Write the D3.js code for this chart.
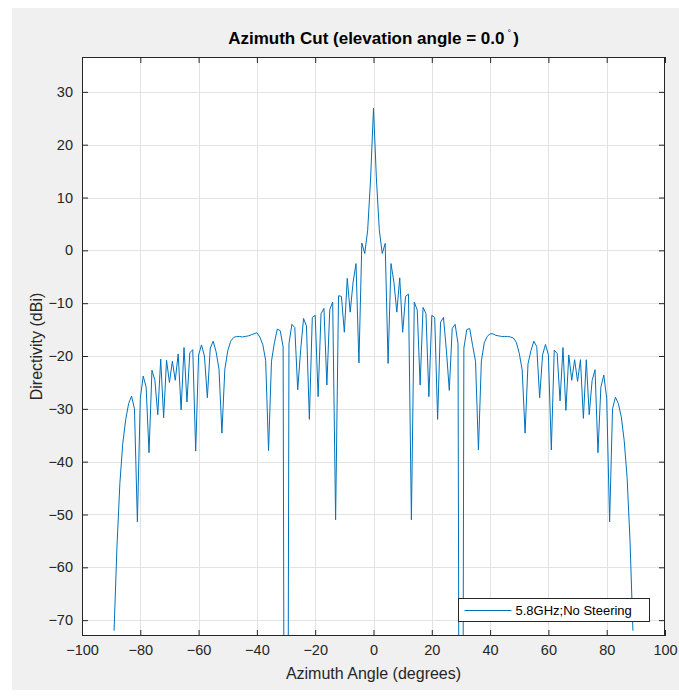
<!DOCTYPE html>
<html>
<head>
<meta charset="utf-8">
<script src="https://cdn.jsdelivr.net/npm/d3@7"></script>
<style>
  html, body { margin: 0; padding: 0; background: #ffffff; }
  svg { display: block; font-family: "Liberation Sans", Arial, Helvetica, sans-serif; }
</style>
</head>
<body>
<div id="chart"></div>
<script>
// Азимутальный срез, шаг 1 градус
const azimuthDeg = [
  -89, -88, -87, -86, -85, -84, -83, -82, -81, -80,
  -79, -78, -77, -76, -75, -74, -73, -72, -71, -70,
  -69, -68, -67, -66, -65, -64, -63, -62, -61, -60,
  -59, -58, -57, -56, -55, -54, -53, -52, -51, -50,
  -49, -48, -47, -46, -45, -44, -43, -42, -41, -40,
  -39, -38, -37, -36, -35, -34, -33, -32, -31, -30,
  -29, -28, -27, -26, -25, -24, -23, -22, -21, -20,
  -19, -18, -17, -16, -15, -14, -13, -12, -11, -10,
  -9, -8, -7, -6, -5, -4, -3, -2, -1, 0,
  1, 2, 3, 4, 5, 6, 7, 8, 9, 10,
  11, 12, 13, 14, 15, 16, 17, 18, 19, 20,
  21, 22, 23, 24, 25, 26, 27, 28, 29, 30,
  31, 32, 33, 34, 35, 36, 37, 38, 39, 40,
  41, 42, 43, 44, 45, 46, 47, 48, 49, 50,
  51, 52, 53, 54, 55, 56, 57, 58, 59, 60,
  61, 62, 63, 64, 65, 66, 67, 68, 69, 70,
  71, 72, 73, 74, 75, 76, 77, 78, 79, 80,
  81, 82, 83, 84, 85, 86, 87, 88, 89
];

const directivityDbi = [
  -72, -56, -44, -36.5, -32, -29, -27.6, -30, -51.4, -28,
  -23.8, -25.9, -38.3, -22.7, -24.6, -31.1, -20.6, -31.7, -20.8, -25,
  -21, -24.6, -19.6, -30.2, -18.4, -28.7, -19.4, -18.8, -38, -19.8,
  -17.9, -20, -27.9, -18.5, -17.2, -19.2, -22.5, -34.6, -22.5, -19,
  -17.2, -16.5, -16.3, -16.3, -16.4, -16.3, -16.2, -16, -15.8, -15.6,
  -16.4, -17.8, -20.8, -37.9, -21, -17.5, -14.9, -15.2, -18.3, -250,
  -17.7, -14, -14.6, -26.4, -18.9, -12.9, -14.3, -32, -12.7, -12.3,
  -27.7, -12, -11, -25.5, -11.2, -9.8, -51, -8.6, -8.7, -15.5,
  -5.3, -11.7, -6, -2.5, -21.3, 1.4, -0.6, 3.8, 13.5, 26.9,
  13.5, 3.8, -0.6, 1.3, -21.4, -2.5, -6, -11.7, -5.2, -15.5,
  -8.7, -8.3, -51, -9.8, -11.3, -25.5, -10.8, -12, -27.7, -12.3,
  -12.7, -32, -13.6, -12.7, -18.9, -26.5, -14.8, -14, -17.7, -250,
  -18.5, -15, -14.8, -18, -21, -37.8, -21, -17.5, -16.3, -15.8,
  -15.8, -16.1, -16.2, -16.3, -16.3, -16.3, -16.4, -16.6, -17.4, -19.5,
  -22.6, -34.6, -21.5, -19, -17.2, -18.2, -27.9, -19.8, -17.8, -19.8,
  -37.8, -18.9, -19.5, -28.5, -18.4, -30.3, -19.8, -24.6, -20.7, -24.8,
  -20.7, -31.8, -20.7, -31.1, -24.6, -22.6, -38.3, -25.9, -23.6, -28,
  -51.4, -30, -27.8, -29, -31.5, -36, -43, -55, -72
];

const xTicks = [-100, -80, -60, -40, -20, 0, 20, 40, 60, 80, 100];
const yTicks = [-70, -60, -50, -40, -30, -20, -10, 0, 10, 20, 30];
const xDomain = [-100, 100];
const yDomain = [-73, 36.6];

const titleText = "Azimuth Cut (elevation angle = 0.0";
const xLabelText = "Azimuth Angle (degrees)";
const yLabelText = "Directivity (dBi)";
const legendText = "5.8GHz;No Steering";

const width = 679;
const height = 699;
const margin = { top: 57, right: 14, bottom: 63, left: 82 };
const innerW = width - margin.left - margin.right;
const innerH = height - margin.top - margin.bottom;

const lineColor = "#0072bd";
const axisColor = "#262626";
const gridColor = "#e3e3e3";

const svg = d3.select("#chart")
    .append("svg")
    .attr("width", width)
    .attr("height", height);

// фон фигуры как в MATLAB
svg.append("rect")
    .attr("x", 0).attr("y", 0)
    .attr("width", width).attr("height", height)
    .attr("fill", "#ffffff");
svg.append("rect")
    .attr("x", 12).attr("y", 8)
    .attr("width", width - 12).attr("height", 682)
    .attr("fill", "#f0f0f0");

const x = d3.scaleLinear().domain(xDomain).range([0, innerW]);
const y = d3.scaleLinear().domain(yDomain).range([innerH, 0]);

const g = svg.append("g")
    .attr("transform", `translate(${margin.left},${margin.top})`);

g.append("rect")
    .attr("width", innerW)
    .attr("height", innerH)
    .attr("fill", "#ffffff");

// сетка
g.append("g")
    .selectAll("line")
    .data(xTicks.slice(1, -1))
    .join("line")
    .attr("x1", d => Math.round(x(d)) + 0.5)
    .attr("x2", d => Math.round(x(d)) + 0.5)
    .attr("y1", 0)
    .attr("y2", innerH)
    .attr("stroke", gridColor);

g.append("g")
    .selectAll("line")
    .data(yTicks)
    .join("line")
    .attr("y1", d => Math.round(y(d)) + 0.5)
    .attr("y2", d => Math.round(y(d)) + 0.5)
    .attr("x1", 0)
    .attr("x2", innerW)
    .attr("stroke", gridColor);

// линия диаграммы
svg.append("clipPath")
    .attr("id", "plot-clip")
    .append("rect")
    .attr("width", innerW)
    .attr("height", innerH);

const points = azimuthDeg.map((a, i) => [a, directivityDbi[i]]);

g.append("path")
    .datum(points)
    .attr("clip-path", "url(#plot-clip)")
    .attr("fill", "none")
    .attr("stroke", lineColor)
    .attr("stroke-width", 1)
    .attr("stroke-linejoin", "round")
    .attr("d", d3.line().x(d => x(d[0])).y(d => y(d[1])));

// оси со штрихами внутрь (как в MATLAB)
const tickLen = 6;
const fontTick = 14.5;

const xAxis = g.append("g")
    .attr("transform", `translate(0,${innerH})`)
    .call(d3.axisBottom(x).tickValues(xTicks).tickSizeInner(-tickLen).tickSizeOuter(0).tickPadding(9));
const xAxisTop = g.append("g")
    .call(d3.axisTop(x).tickValues(xTicks).tickSizeInner(-tickLen).tickSizeOuter(0).tickFormat(""));
const yAxis = g.append("g")
    .call(d3.axisLeft(y).tickValues(yTicks).tickSizeInner(-tickLen).tickSizeOuter(0).tickPadding(9));
const yAxisRight = g.append("g")
    .attr("transform", `translate(${innerW},0)`)
    .call(d3.axisRight(y).tickValues(yTicks).tickSizeInner(-tickLen).tickSizeOuter(0).tickFormat(""));

[xAxis, xAxisTop, yAxis, yAxisRight].forEach(ax => {
    ax.select(".domain").remove();
    ax.selectAll("line").attr("stroke", axisColor);
    ax.selectAll("text")
        .attr("fill", axisColor)
        .style("font-size", fontTick + "px")
        .style("font-family", '"Liberation Sans", Arial, sans-serif');
});

// рамка
g.append("rect")
    .attr("x", 0.5).attr("y", 0.5)
    .attr("width", innerW - 1)
    .attr("height", innerH - 1)
    .attr("fill", "none")
    .attr("stroke", axisColor)
    .attr("stroke-width", 1);

// заголовок
const title = svg.append("text")
    .attr("x", margin.left + innerW / 2)
    .attr("y", 44)
    .attr("text-anchor", "middle")
    .attr("fill", "#000000")
    .style("font-size", "17px")
    .style("font-weight", "bold")
    .text(titleText);
title.append("tspan")
    .attr("dx", 3)
    .attr("dy", -8)
    .style("font-size", "9px")
    .style("font-weight", "normal")
    .text("\u00b0");
title.append("tspan")
    .attr("dx", 2)
    .attr("dy", 8)
    .text(")");

// подписи осей
svg.append("text")
    .attr("x", margin.left + innerW / 2)
    .attr("y", 679)
    .attr("text-anchor", "middle")
    .attr("fill", axisColor)
    .style("font-size", "16px")
    .text(xLabelText);

svg.append("text")
    .attr("transform", `translate(42,${margin.top + innerH / 2}) rotate(-90)`)
    .attr("text-anchor", "middle")
    .attr("fill", axisColor)
    .style("font-size", "16px")
    .text(yLabelText);

// легенда
const legend = svg.append("g")
    .attr("transform", "translate(458.5,598.5)");
legend.append("rect")
    .attr("width", 191)
    .attr("height", 23)
    .attr("fill", "#ffffff")
    .attr("stroke", axisColor)
    .attr("stroke-width", 1);
legend.append("line")
    .attr("x1", 6).attr("x2", 53)
    .attr("y1", 12).attr("y2", 12)
    .attr("stroke", lineColor)
    .attr("stroke-width", 1);
legend.append("text")
    .attr("x", 57)
    .attr("y", 16.5)
    .attr("fill", "#000000")
    .style("font-size", "13px")
    .text(legendText);
</script>
</body>
</html>
